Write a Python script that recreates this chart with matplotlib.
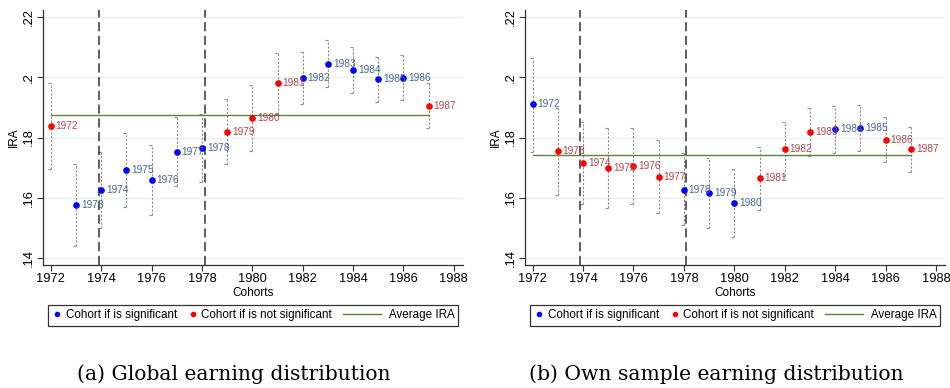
import numpy as np
import matplotlib
matplotlib.use('Agg')
import matplotlib.pyplot as plt
from matplotlib.lines import Line2D
from matplotlib.legend_handler import HandlerLine2D

plt.rcParams['font.family'] = ['Liberation Sans', 'DejaVu Sans']

cohorts = np.arange(1972, 1988)

# (a) global earning distribution
ira_a = [0.1838, 0.1575, 0.1626, 0.1693, 0.1659, 0.1753, 0.1764, 0.1819,
         0.1865, 0.1980, 0.1997, 0.2046, 0.2024, 0.1994, 0.1999, 0.1906]
lo_a = [0.1694, 0.1439, 0.1498, 0.1570, 0.1542, 0.1640, 0.1652, 0.1711,
        0.1756, 0.1878, 0.1911, 0.1969, 0.1947, 0.1919, 0.1925, 0.1832]
hi_a = [0.1983, 0.1711, 0.1751, 0.1816, 0.1775, 0.1867, 0.1877, 0.1929,
        0.1974, 0.2082, 0.2083, 0.2123, 0.2100, 0.2069, 0.2074, 0.1981]
sig_a = [0, 1, 1, 1, 1, 1, 1, 0, 0, 0, 1, 1, 1, 1, 1, 0]
avg_a = 0.1874

# (b) own sample earning distribution
ira_b = [0.1910, 0.1756, 0.1715, 0.1700, 0.1704, 0.1670, 0.1627, 0.1616,
         0.1583, 0.1664, 0.1762, 0.1818, 0.1827, 0.1833, 0.1793, 0.1761]
lo_b = [0.1753, 0.1609, 0.1579, 0.1566, 0.1579, 0.1550, 0.1508, 0.1499,
        0.1468, 0.1559, 0.1672, 0.1738, 0.1747, 0.1756, 0.1717, 0.1686]
hi_b = [0.2066, 0.1897, 0.1851, 0.1833, 0.1831, 0.1791, 0.1747, 0.1731,
        0.1697, 0.1770, 0.1851, 0.1897, 0.1905, 0.1908, 0.1867, 0.1834]
sig_b = [1, 0, 0, 0, 0, 0, 1, 1, 1, 0, 0, 0, 1, 1, 0, 0]
avg_b = 0.1742

reform_years = [1973.9, 1978.1]
yticks = [0.14, 0.16, 0.18, 0.20, 0.22]
ytick_labels = ['.14', '.16', '.18', '.2', '.22']
xticks = np.arange(1972, 1989, 2)
captions = ['(a) Global earning distribution', '(b) Own sample earning distribution']


class LongLine(HandlerLine2D):
    # stretch the line sample so it reaches into the padded label
    def create_artists(self, legend, orig_handle, xdescent, ydescent,
                       width, height, fontsize, trans):
        return super().create_artists(legend, orig_handle, xdescent, ydescent,
                                      width * 3.3, height, fontsize, trans)


def panel(ax, ira, lo, hi, sig, avg):
    ira, lo, hi, sig = map(np.asarray, (ira, lo, hi, sig))
    ax.set_xlim(1971.7, 1988.35)
    ax.set_ylim(0.1376, 0.2224)
    for y in yticks:
        ax.axhline(y, color='#e6eff1', lw=1.0, zorder=0)

    # confidence intervals: dashed gray spikes with half caps
    ax.vlines(cohorts, lo, hi, colors='#8c8c8c', linestyles=(0, (2, 1.5)), lw=0.8, zorder=1)
    ax.hlines(np.r_[lo, hi], np.r_[cohorts, cohorts] - 0.12, np.r_[cohorts, cohorts],
              colors='#8c8c8c', lw=0.8, zorder=1)

    for x in reform_years:
        ax.axvline(x, color='#333333', lw=1.1, ls=(0, (6, 3)), zorder=2)
    ax.plot([cohorts[0], cohorts[-1]], [avg, avg], color='#5f8040', lw=1.0, zorder=2)

    s = sig == 1
    ax.plot(cohorts[s], ira[s], 'o', color='#0000ff', ms=4.8, mec='none', zorder=3)
    ax.plot(cohorts[~s], ira[~s], 'o', color='#ff0000', ms=4.8, mec='none', zorder=3)
    for c, v, k in zip(cohorts, ira, sig):
        ax.annotate(str(c), (c, v), xytext=(3.5, 0), textcoords='offset points',
                    va='center', ha='left', fontsize=7.3,
                    color='#46688f' if k else '#b0484c', zorder=4)

    ax.set_yticks(yticks)
    ax.set_yticklabels(ytick_labels, rotation=90, va='center')
    ax.set_xticks(xticks)
    ax.tick_params(labelsize=9.3, length=4, width=0.8, color='#333333', pad=2)
    ax.set_xlabel('Cohorts', fontsize=8.5, labelpad=1)
    ax.set_ylabel('IRA', fontsize=8.5, labelpad=2)
    for side in ('top', 'right'):
        ax.spines[side].set_visible(False)
    for side in ('left', 'bottom'):
        ax.spines[side].set_color('#333333')
        ax.spines[side].set_linewidth(0.9)

    avg_handle = Line2D([], [], color='#5f8040', lw=1.0)
    handles = [
        Line2D([], [], ls='none', marker='o', color='#0000ff', ms=4, mec='none'),
        Line2D([], [], ls='none', marker='o', color='#ff0000', ms=4, mec='none'),
        avg_handle,
    ]
    labels = ['Cohort if is significant', 'Cohort if is not significant',
              '          Average IRA']
    leg = ax.legend(handles, labels, loc='center', bbox_to_anchor=(0.5, -0.198),
                    ncol=3, fontsize=8.4, frameon=True, fancybox=False,
                    edgecolor='black', handlelength=1.0, handletextpad=0.2,
                    columnspacing=0.9, borderpad=0.35, borderaxespad=0,
                    handler_map={avg_handle: LongLine()})
    leg.get_frame().set_linewidth(0.9)


fig = plt.figure(figsize=(9.5, 3.88), dpi=100)
ax1 = fig.add_axes([0.0456, 0.317, 0.4414, 0.657])
ax2 = fig.add_axes([0.5526, 0.317, 0.4421, 0.657])
panel(ax1, ira_a, lo_a, hi_a, sig_a, avg_a)
panel(ax2, ira_b, lo_b, hi_b, sig_b, avg_b)

for ax, cap in zip((ax1, ax2), captions):
    ax.text(0.455, -0.43, cap, transform=ax.transAxes, ha='center', va='center',
            fontsize=14.6, family='DejaVu Serif')

fig.savefig('out.png', dpi=100)
